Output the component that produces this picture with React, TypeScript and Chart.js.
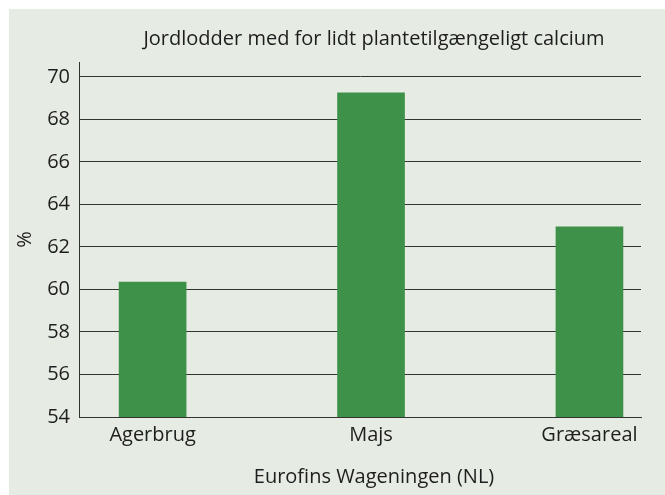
import React, { useEffect, useRef } from "react";
import { Chart, registerables } from "chart.js";

Chart.register(...registerables);

const categories = ["Agerbrug", "Majs", "Græsareal"];
const values = [60.35, 69.25, 62.95];
const yTicks = [54, 56, 58, 60, 62, 64, 66, 68, 70];
const chartTitle = "Jordlodder med for lidt plantetilgængeligt calcium";
const xAxisTitle = "Eurofins Wageningen (NL)";
const yAxisTitle = "%";

const FONT = "'Open Sans', 'Noto Sans', sans-serif";
const TEXT = "#1e1e1e";
const GRID = "#333333";

const titlesPlugin = {
  id: "offsetTitles",
  afterDraw(chart: any) {
    const ctx = chart.ctx;
    const cx = 365;
    ctx.save();
    ctx.fillStyle = TEXT;
    ctx.font = `20px ${FONT}`;
    ctx.textAlign = "center";
    ctx.textBaseline = "alphabetic";
    ctx.fillText(chartTitle, cx, 36);
    ctx.fillText(xAxisTitle, cx, 474);
    ctx.restore();
  },
};

export default function App() {
  const ref = useRef<HTMLCanvasElement | null>(null);

  useEffect(() => {
    if (!ref.current) return;
    const chart = new Chart(ref.current, {
      type: "bar",
      data: {
        datasets: [
          {
            data: categories.map((_, i) => ({ x: i, y: values[i] })) as any,
            backgroundColor: "#3e9149",
            borderWidth: 0,
            barThickness: 67,
          },
        ],
      },
      options: {
        animation: false,
        responsive: true,
        maintainAspectRatio: false,
        layout: { padding: { top: 53, right: 24, bottom: 0, left: 0 } },
        plugins: {
          legend: { display: false },
          title: { display: false },
          tooltip: { enabled: false },
        },
        scales: {
          x: {
            type: "linear",
            offset: false,
            min: -0.337,
            max: 2.236,
            afterBuildTicks: (s: any) => {
              s.ticks = categories.map((_, i) => ({ value: i }));
            },
            afterFit: (s: any) => {
              s.height = 78;
            },
            ticks: {
              autoSkip: false,
              maxRotation: 0,
              padding: 6,
              color: TEXT,
              font: { family: FONT, size: 20 },
              callback: (v: any) => categories[Math.round(Number(v))] ?? "",
            },
            grid: { display: false, drawTicks: false, offset: false },
            border: { display: true, color: GRID, width: 1 },
          },
          y: {
            type: "linear",
            min: 54,
            max: 70.7,
            afterBuildTicks: (s: any) => {
              s.ticks = yTicks.map((v) => ({ value: v }));
            },
            afterFit: (s: any) => {
              s.width = 70;
            },
            ticks: {
              padding: 9,
              color: TEXT,
              font: { family: FONT, size: 20 },
            },
            grid: { color: GRID, lineWidth: 1, drawTicks: false },
            border: { display: true, color: GRID, width: 1 },
            title: {
              display: true,
              text: yAxisTitle,
              color: TEXT,
              font: { family: FONT, size: 20 },
              padding: { top: 4, bottom: 0 },
            },
          },
        },
      },
      plugins: [titlesPlugin],
    });
    return () => chart.destroy();
  }, []);

  return (
    <div
      style={{
        position: "fixed",
        left: 9,
        top: 9,
        width: 656,
        height: 486,
        background: "#e6ebe3",
      }}
    >
      <canvas ref={ref} />
    </div>
  );
}
